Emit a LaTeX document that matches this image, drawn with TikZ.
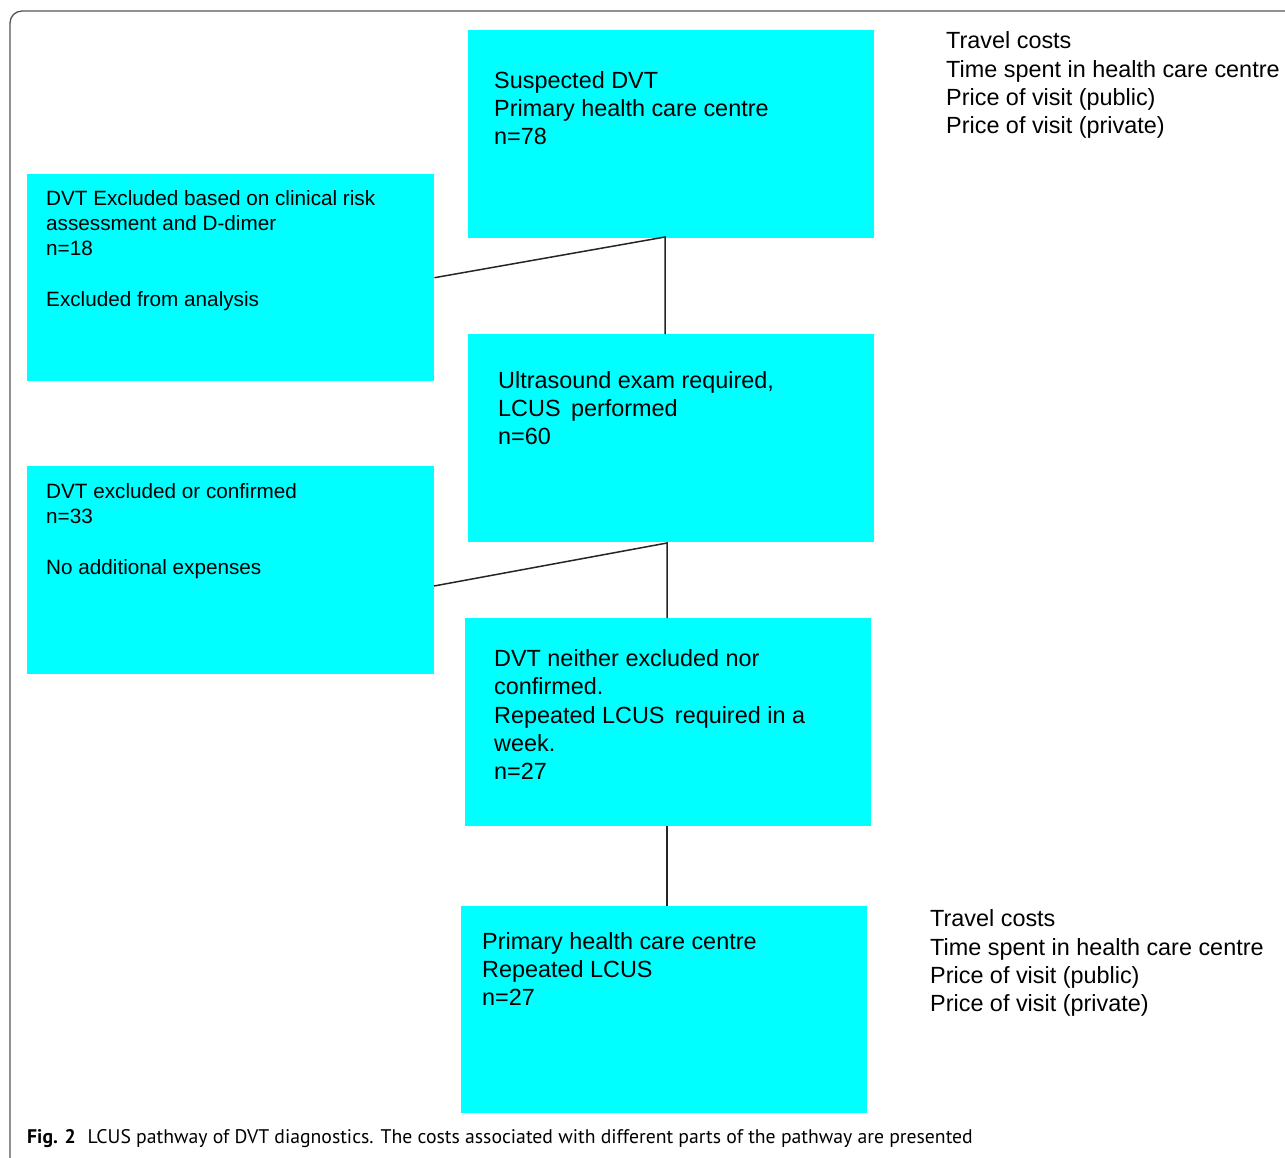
\documentclass[tikz,border=0pt]{standalone}
\usepackage{fontspec}
\setmainfont{Liberation Sans}
\newfontfamily\capfont{PT Sans}
\definecolor{boxcyan}{HTML}{00FFFF}
\definecolor{framegray}{HTML}{555555}
\tikzset{
  box/.style={fill=boxcyan, draw=none, anchor=north west, inner sep=0pt},
  bigtxt/.style={anchor=base west, align=left, inner sep=0pt, font=\fontsize{23.4}{28.2}\selectfont},
  smalltxt/.style={anchor=base west, align=left, inner sep=0pt, font=\fontsize{20.7}{25.3}\selectfont},
  conn/.style={draw=black!85, line width=1.5pt},
}
\begin{document}
\begin{tikzpicture}[x=1pt,y=-1pt]
\useasboundingbox (0,0) rectangle (1285,1157);
\clip (0,0) rectangle (1285,1157);
\fill[white] (0,0) rectangle (1285,1157);
\draw[framegray, line width=1.3pt, rounded corners=12pt] (10,11) rectangle (1320,1190);

% boxes
\node[box, minimum width=406pt, minimum height=208pt] (b1) at (468,30) {};
\node[box, minimum width=407pt, minimum height=207pt] (b2) at (27,174) {};
\node[box, minimum width=406pt, minimum height=208pt] (b3) at (468,334) {};
\node[box, minimum width=407pt, minimum height=208pt] (b4) at (27,466) {};
\node[box, minimum width=406pt, minimum height=208pt] (b5) at (465,618) {};
\node[box, minimum width=406pt, minimum height=207pt] (b6) at (461,906) {};

% texts (anchored at the baseline of their last line)
\node[bigtxt] (t1) at (494,144.5) {Suspected DVT\\Primary health care centre\\n=78};
\node[smalltxt] (t2) at (46,306.5) {DVT Excluded based on clinical risk\\assessment and D-dimer\\n=18\\[25.3pt]Excluded from analysis};
\node[bigtxt] (t3) at (498,444.5) {Ultrasound exam required,\\LCUS\, performed\\n=60};
\node[smalltxt] (t4) at (46,574.5) {DVT excluded or confirmed\\n=33\\[25.3pt]No additional expenses};
\node[bigtxt] (t5) at (494,779.5) {DVT neither excluded nor\\confirmed.\\Repeated LCUS\, required in a\\week.\\n=27};
\node[bigtxt] (t6) at (482,1005.5) {Primary health care centre\\Repeated LCUS\\n=27};
\node[bigtxt] (c1) at (946,133.5) {Travel costs\\Time spent in health care centre\\Price of visit (public)\\Price of visit (private)};
\node[bigtxt] (c2) at (930,1011.5) {Travel costs\\Time spent in health care centre\\Price of visit (public)\\Price of visit (private)};

% connectors
\coordinate (j1) at (665,237);
\coordinate (j2) at (667,543);
\coordinate (e4) at (434,586);
\draw[conn] (b2.east) -- (j1) -- (j1 |- b3.north);
\draw[conn] (e4) -- (j2) -- (j2 |- b5.north);
\draw[conn] (b5.south -| j2) -- (j2 |- b6.north);

% caption
\node[anchor=base west, inner sep=0pt, font=\capfont\fontsize{19.7}{22}\selectfont] (cap) at (27,1143)
  {\textbf{Fig. 2}\hspace{0.6em}LCUS pathway of DVT diagnostics. The costs associated with different parts of the pathway are presented};
\end{tikzpicture}
\end{document}
